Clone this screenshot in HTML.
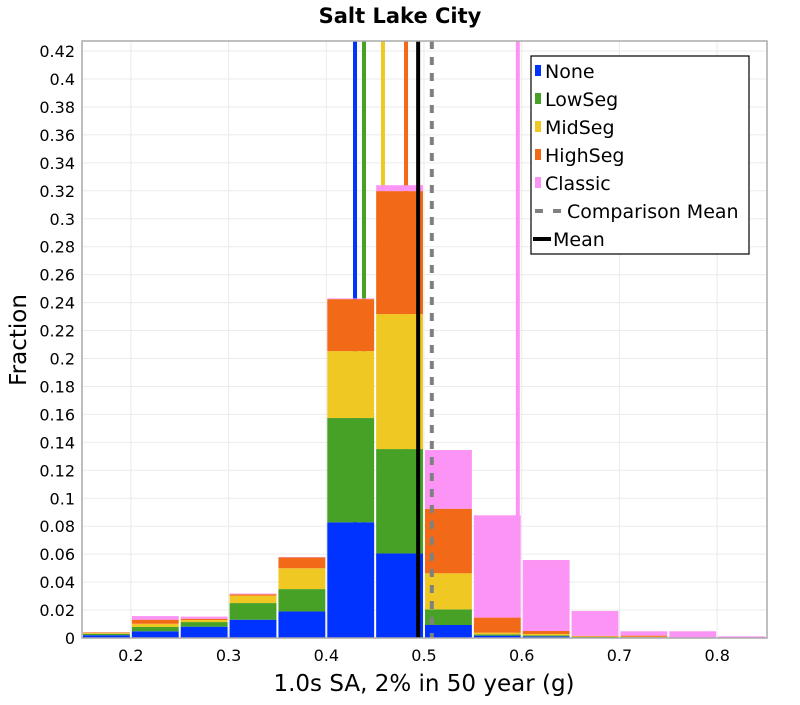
<!DOCTYPE html>
<html><head><meta charset="utf-8"><style>
body{margin:0;background:#fff;}
svg text{font-family:"DejaVu Sans","Liberation Sans",sans-serif;}
</style></head><body>
<svg id="chart" width="800" height="700" xmlns="http://www.w3.org/2000/svg">
<rect width="800" height="700" fill="#fff"/>
<text x="400" y="23" text-anchor="middle" font-size="21" font-weight="bold">Salt Lake City</text>
<g id="grid"></g>
<g id="lines-back"></g>
<g id="bars"></g>
<g id="lines-front"></g>
<rect x="82" y="41" width="685" height="597" fill="none" stroke="#aaa" stroke-width="1.5"/>
<g id="yticks"></g>
<g id="xticks"></g>
<text x="26" y="340" transform="rotate(-90 26 340)" text-anchor="middle" font-size="23">Fraction</text>
<text x="424" y="691" text-anchor="middle" font-size="23">1.0s SA, 2% in 50 year (g)</text>
<g>
<rect x="531" y="56" width="218" height="198" fill="#fff" stroke="#000" stroke-width="1.2"/>
<g id="legend-items"></g>
</g>
</svg>
<script>
const binStarts=[0.15,0.2,0.25,0.3,0.35,0.4,0.45,0.5,0.55,0.6,0.65,0.7,0.75,0.8];
const seriesNames=["None","LowSeg","MidSeg","HighSeg","Classic"];
const seriesColors=["#0033ff","#48a127","#f0c823","#f26a18","#fc94f5"];
const noneVals=[0.002,0.0048,0.0081,0.0131,0.019,0.0828,0.0605,0.0093,0.0017,0.0012,0.0004,0.0003,0,0];
const lowVals=[0.001,0.0031,0.0033,0.0119,0.016,0.0746,0.0747,0.0112,0.0009,0.0007,0.0004,0.0003,0,0];
const midVals=[0.0005,0.0023,0.0015,0.0053,0.0149,0.0479,0.0966,0.0258,0.0012,0.001,0.0003,0.0003,0,0];
const highVals=[0.0005,0.0029,0.0009,0.001,0.0078,0.0372,0.088,0.0462,0.0108,0.0021,0.0004,0.0008,0,0];
const classicVals=[0,0.0026,0.0015,0.0005,0.0003,0.0005,0.0042,0.042,0.0732,0.0508,0.0178,0.0031,0.0048,0.0012];
const meanVals=[0.4294,0.4386,0.458,0.4816,0.596];
const overallMean=0.494, comparisonMean=0.508;
const yTicks=[0,0.02,0.04,0.06,0.08,0.1,0.12,0.14,0.16,0.18,0.2,0.22,0.24,0.26,0.28,0.3,0.32,0.34,0.36,0.38,0.4,0.42];
const xTicks=[0.2,0.3,0.4,0.5,0.6,0.7,0.8];
const binW=0.05;
const X0=82,X1=767,Y0=638,Y1=41,xmin=0.15,xmax=0.851,ymin=0,ymax=0.4272;
const xs=v=>X0+(v-xmin)/(xmax-xmin)*(X1-X0);
const ys=v=>Y0-(v-ymin)/(ymax-ymin)*(Y0-Y1);
const NS="http://www.w3.org/2000/svg";
function mk(tag,parent,attrs){const e=document.createElementNS(NS,tag);for(const k in attrs)e.setAttribute(k,attrs[k]);parent.appendChild(e);return e;}
const grid=document.getElementById('grid'),yt=document.getElementById('yticks'),xt=document.getElementById('xticks');
yTicks.forEach(t=>{
 const l=mk('line',grid,{x1:X0,x2:X1,y1:ys(t),y2:ys(t),stroke:'#ebebeb','stroke-width':1});
 
 
 const tx=mk('text',yt,{x:75,y:ys(t)+6,'text-anchor':'end','font-size':16});
 tx.textContent=String(t);
 
 
});
xTicks.forEach(t=>{
 const l=mk('line',grid,{x1:xs(t),x2:xs(t),y1:Y1,y2:Y0,stroke:'#ebebeb','stroke-width':1});
 
 
 const tx=mk('text',xt,{x:xs(t),y:661,'text-anchor':'middle','font-size':16});
 tx.textContent=String(t);
 
 
});
const lb=document.getElementById('lines-back');
meanVals.forEach((m,i)=>{
 const l=mk('line',lb,{x1:xs(m),x2:xs(m),y1:Y1,y2:Y0,stroke:seriesColors[i],'stroke-width':4});
 
 
});
const bars=document.getElementById('bars');
const series=[noneVals,lowVals,midVals,highVals,classicVals];
binStarts.forEach((b,j)=>{
 let cum=0;
 const xa=xs(b)+1,xb=xs(b+binW)-1;
 series.forEach((s,i)=>{
  const v=s[j]; if(v<=0)return;
  const r=mk('rect',bars,{x:xa,width:xb-xa,y:ys(cum+v),height:ys(cum)-ys(cum+v),fill:seriesColors[i]});
  
  
  cum+=v;
 });
});
const lf=document.getElementById('lines-front');
const cm=mk('line',lf,{x1:xs(comparisonMean),x2:xs(comparisonMean),y1:Y1,y2:Y0,stroke:'#808080','stroke-width':4,'stroke-dasharray':'8,8'});


const om=mk('line',lf,{x1:xs(overallMean),x2:xs(overallMean),y1:Y1,y2:Y0,stroke:'#000','stroke-width':4});


const li=document.getElementById('legend-items');
const labels=seriesNames.concat(["Comparison Mean","Mean"]);
labels.forEach((n,i)=>{
 const cy=71+i*28;
 const g=mk('g',li,{});
 
 
 let tx=545;
 if(i<5){mk('rect',g,{x:535,y:cy-6,width:6,height:11,fill:seriesColors[i]});}
 else if(i===5){mk('rect',g,{x:535,y:cy-2,width:8,height:4,fill:'#808080'});mk('rect',g,{x:553,y:cy-2,width:8,height:4,fill:'#808080'});tx=567;}
 else {mk('rect',g,{x:533,y:cy-2,width:18,height:4,fill:'#000'});tx=553;}
 const t=mk('text',g,{x:tx,y:cy+7,'font-size':19});
 t.textContent=n;
});
</script>
</body></html>
